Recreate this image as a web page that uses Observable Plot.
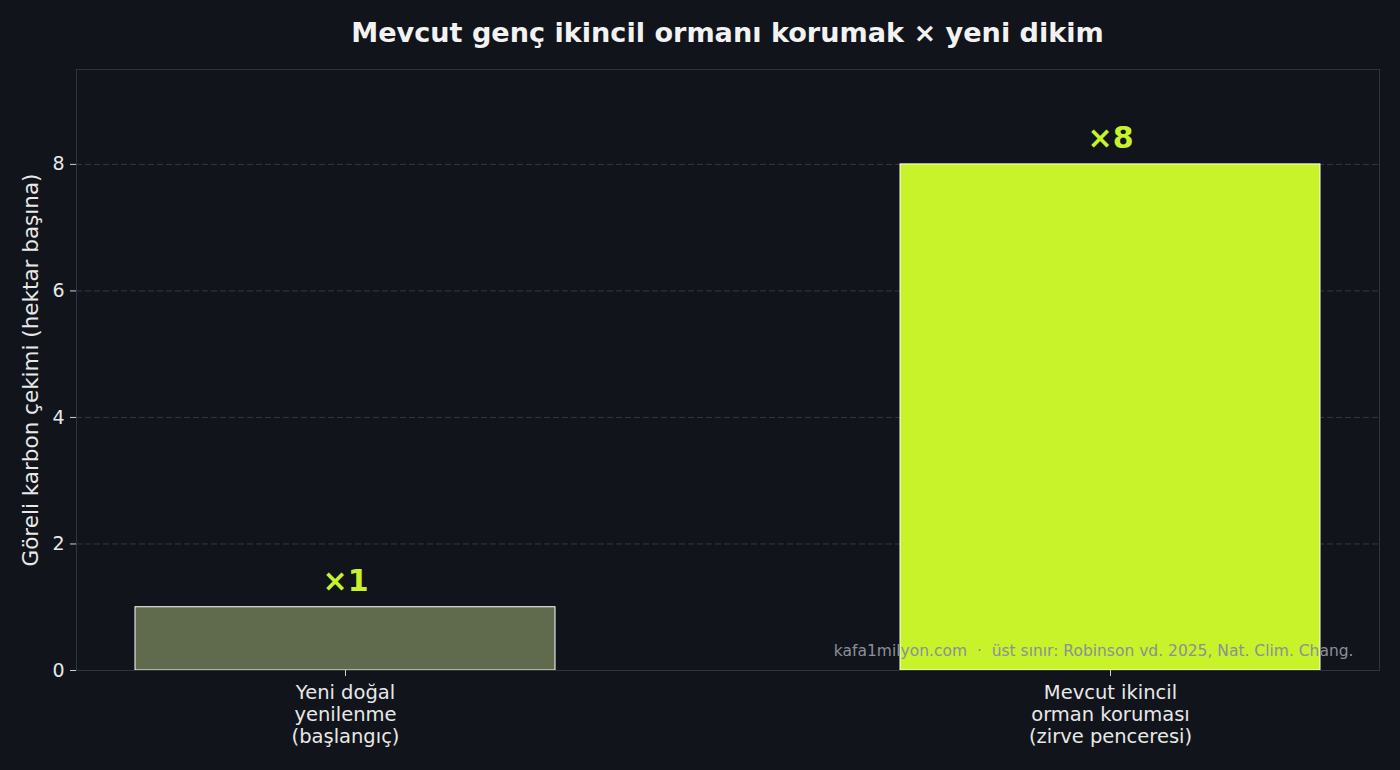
<!DOCTYPE html>
<html><head><meta charset="utf-8">
<script src="https://cdn.jsdelivr.net/npm/d3@7"></script>
<script src="https://cdn.jsdelivr.net/npm/@observablehq/plot@0.6"></script>
<style>
html,body{margin:0;padding:0;background:#11141b;font-family:"DejaVu Sans",sans-serif;}
#title{height:60px;box-sizing:border-box;padding-left:76px;padding-right:21px;text-align:center;color:#f2f2f2;font-weight:bold;font-size:27.1px;line-height:66px;white-space:nowrap;}
</style></head><body>
<div id="title">Mevcut genç ikincil ormanı korumak × yeni dikim</div>
<div id="chart"></div>
<script>
const categories = ["Yeni doğal\nyenilenme\n(başlangıç)", "Mevcut ikincil\norman koruması\n(zirve penceresi)"];
const values = [1, 8];
const valueLabels = ["×1", "×8"];
const barColors = ["#5f6b4c", "#c8f22a"];
const yTicks = [0, 2, 4, 6, 8];
const yLabel = "Göreli karbon çekimi (hektar başına)";
const caption = "kafa1milyon.com  ·  üst sınır: Robinson vd. 2025, Nat. Clim. Chang.";

const data = categories.map((c, i) => ({cat: c, value: values[i], label: valueLabels[i], color: barColors[i]}));

const chart = Plot.plot({
  width: 1400, height: 710,
  marginTop: 9, marginBottom: 100, marginLeft: 76, marginRight: 21,
  style: {background: "#11141b", color: "#e8e8e8", fontFamily: "DejaVu Sans, sans-serif", fontSize: "19px"},
  x: {domain: categories, paddingInner: 0.451, paddingOuter: 0.077, label: null},
  y: {domain: [0, 9.5], label: null},
  color: {type: "identity"},
  marks: [
    Plot.gridY(yTicks.filter(d => d > 0), {stroke: "#343842", strokeOpacity: 1, strokeDasharray: "6,3"}),
    Plot.barY(data, {x: "cat", y: "value", fill: d => d.color, stroke: "#ffffff", strokeWidth: 1}),
    Plot.text(data, {x: "cat", y: "value", text: "label", dy: -26, fill: "#c8f22a", fontWeight: "bold", fontSize: 30}),
    Plot.frame({stroke: "#30343c"}),
    Plot.axisY({ticks: yTicks, tickSize: 6, tickPadding: 6, stroke: "#cfcfcf", label: null, fontSize: 19}),
    Plot.axisX({tickSize: 6, tickPadding: 7, lineHeight: 1.13, stroke: "#cfcfcf", label: null, fontSize: 19.5}),
    Plot.text([caption], {frameAnchor: "bottom-right", dx: -26, dy: -15, fill: "#8b9099", fontSize: 15.5, textAnchor: "end"}),
    Plot.text([yLabel], {frameAnchor: "left", rotate: -90, dx: -45, textAnchor: "middle", lineAnchor: "middle", fill: "#e8e8e8", fontSize: 21.5})
  ]
});
document.getElementById("chart").appendChild(chart);
</script>
</body></html>
